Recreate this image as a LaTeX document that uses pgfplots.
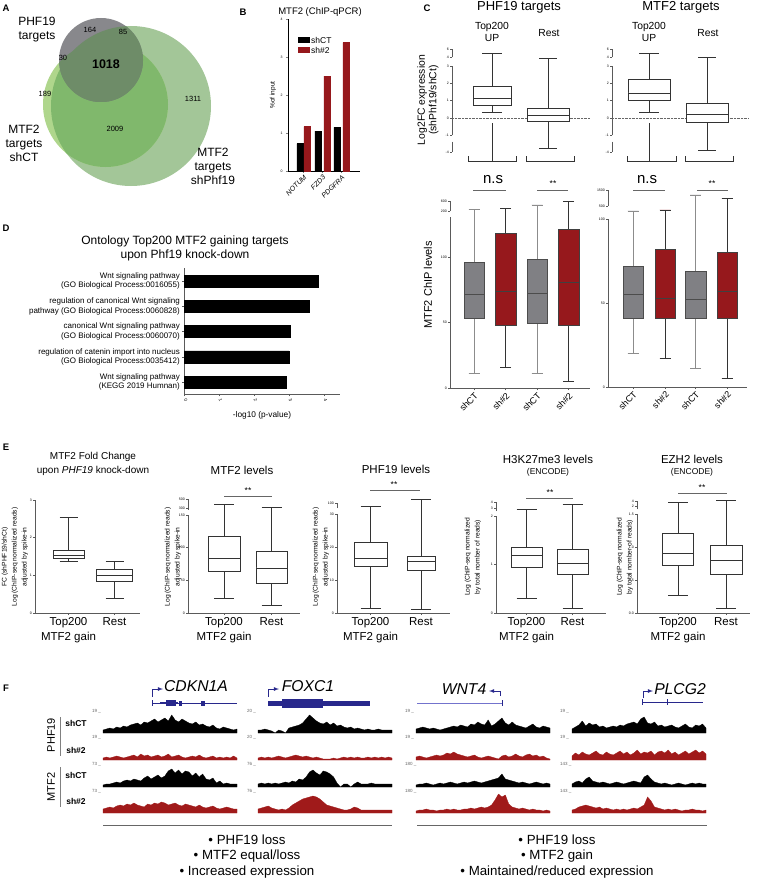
\documentclass[border=0pt]{standalone}
\usepackage{pgfplots}
\pgfplotsset{compat=1.18}
\usepgfplotslibrary{statistics}
\usepackage{fontspec}
\setmainfont{Liberation Sans}
\definecolor{boxgray}{RGB}{128,128,132}
\definecolor{boxred}{RGB}{150,24,28}
\definecolor{trkred}{RGB}{160,26,26}
\definecolor{navy}{RGB}{40,40,140}
\definecolor{lnavy}{RGB}{115,115,205}
\definecolor{vpale}{RGB}{163,198,152}
\definecolor{vlight}{RGB}{175,214,140}
\definecolor{vmed}{RGB}{128,184,108}
\definecolor{vgray}{RGB}{136,136,140}
\definecolor{vdark}{RGB}{110,140,104}
\definecolor{axgray}{RGB}{90,90,90}
\newcommand{\fsz}[2]{\fontsize{#1}{#2}\selectfont}
\pgfplotsset{
  bxax/.style={scale only axis, clip=false, /pgf/number format/assume math mode=true,
    axis x line=bottom, axis y line=left, axis line style={-, draw=axgray, line width=0.6pt},
    y axis line style={draw=none},
    tick align=outside, major tick length=2pt, tick style={draw=axgray, line width=0.5pt},
    yticklabel style={font=\fsz{3.5}{4}, inner sep=1pt}},
  wbox/.style={draw=black!80, fill=white, line width=0.8pt},
  gbox/.style={draw=black!70, fill=boxgray, line width=0.6pt, boxplot/every whisker/.style={draw=black!45, line width=0.8pt}},
  rbox/.style={draw=black!75, fill=boxred, line width=0.6pt, boxplot/every whisker/.style={draw=black!80, line width=0.8pt}},
  elab/.style={xticklabel style={align=center, anchor=north, font=\fsz{11.5}{15}, inner sep=2pt}},
}
\newcommand{\bx}[9]{\addplot[#1, boxplot prepared={draw direction=y, draw position=#2, box extend=#3, whisker extend=#4, lower whisker=#5, lower quartile=#6, median=#7, upper quartile=#8, upper whisker=#9}] coordinates {};}
\newcommand{\trk}[4]{\begin{axis}[at={(#1pt,-#2pt)}, anchor=south west, scale only axis, width=134pt, height=22pt, hide axis, xmin=0, xmax=39, ymin=0, ymax=22, clip=false]
\addplot[fill=#3, draw=#3, line width=0.3pt] table[x expr=\coordindex, y=v, row sep=\\]{#4} \closedcycle;
\end{axis}}
\begin{document}
\begin{tikzpicture}
\path[use as bounding box] (0pt,0pt) rectangle (760pt,-880pt);

% ---------------- A: Venn
\begin{axis}[at={(0pt,-220pt)}, anchor=south west, scale only axis, width=240pt, height=220pt, xmin=0, xmax=240, ymin=-220, ymax=0, hide axis, clip=false]
\fill[vpale] (131,-106) circle[radius=80pt];
\fill[vlight] (105.5,-104.5) circle[radius=62.5pt];
\begin{scope}\clip (105.5,-104.5) circle[radius=62.5pt]; \fill[vmed] (131,-106) circle[radius=80pt];\end{scope}
\fill[vgray] (101,-60) circle[radius=42pt];
\begin{scope}\clip (101,-60) circle[radius=42pt]; \fill[vdark] (131,-106) circle[radius=80pt]; \fill[vdark] (105.5,-104.5) circle[radius=62.5pt];\end{scope}
\end{axis}

% ---------------- B: bars
\begin{axis}[scale only axis, clip=false, at={(288pt,-171pt)}, anchor=south west, width=72pt, height=152pt,
  xmin=0, xmax=72, ymin=0, ymax=4, ybar, bar width=6.5pt, bar shift=0pt,
  axis x line=bottom, axis y line=left, axis line style={-, line width=0.6pt},
  ytick={0,1,2,3,4}, xtick={15.5,34.5,53.5}, xticklabels={NOTUM,FZD3,PDGFRA},
  xticklabel style={rotate=45, anchor=north east, font=\itshape\fsz{7}{8}, inner sep=1pt},
  yticklabel style={font=\fsz{3.5}{4}}, tick align=outside, major tick length=2pt,
  /pgf/number format/assume math mode=true]
\addplot[fill=black, draw=black] coordinates {(12,0.72) (30,1.05) (49,1.15)};
\addplot[fill=boxred, draw=boxred] coordinates {(19,1.17) (39,2.5) (58,3.38)};
\end{axis}

% ---------------- C top left (x relative to 452)
\begin{axis}[bxax, axis x line=none, at={(452pt,-162.6pt)}, anchor=south west, width=138pt, height=114.6pt,
  xmin=0, xmax=138, ymin=-2.55, ymax=4,
  ytick={-1.94,-1,0,1,2,2.97,3.47,3.94}, yticklabels={-4,-1,0,1,2,3,4,6}]
\draw[axgray, line width=0.6pt] (0,-1) -- (0,2.97);
\draw[axgray, line width=0.6pt] (0,3.47) -- (0,3.94);
\draw[axgray, line width=0.6pt] (0,-1.35) -- (0,-1.94);
\draw[densely dotted, black!60] (0,0) -- (138,0);
\bx{wbox}{40}{38}{20}{0.3}{0.7}{1.13}{1.8}{3.71}
\addplot[black!80, line width=0.8pt] coordinates {(40,-0.3) (40,-2.51)};
\bx{wbox}{96}{42}{18}{-1.73}{-0.17}{0.13}{0.57}{3.43}
\draw[black!80, line width=1pt] (16,-2.2) -- (16,-2.51) -- (64,-2.51) -- (64,-2.2);
\draw[black!80, line width=1pt] (74,-2.2) -- (74,-2.51) -- (122,-2.51) -- (122,-2.2);
\end{axis}

% ---------------- C top right (x relative to 612)
\begin{axis}[bxax, axis x line=none, at={(612pt,-162.6pt)}, anchor=south west, width=136pt, height=114.6pt,
  xmin=0, xmax=136, ymin=-2.55, ymax=4,
  ytick={-1.94,-1,0,1,2,2.97,3.47,3.94}, yticklabels={-4,-1,0,1,2,3,4,6}]
\draw[axgray, line width=0.6pt] (0,-1) -- (0,2.97);
\draw[axgray, line width=0.6pt] (0,3.47) -- (0,3.94);
\draw[axgray, line width=0.6pt] (0,-1.35) -- (0,-1.94);
\draw[densely dotted, black!60] (0,0) -- (136,0);
\bx{wbox}{37}{42}{20}{0.34}{1.03}{1.43}{2.23}{3.71}
\addplot[black!80, line width=0.8pt] coordinates {(37,-0.3) (37,-2.51)};
\bx{wbox}{95}{42}{18}{-1.83}{-0.23}{0.23}{0.86}{3.49}
\draw[black!80, line width=1pt] (15,-2.2) -- (15,-2.51) -- (64,-2.51) -- (64,-2.2);
\draw[black!80, line width=1pt] (73,-2.2) -- (73,-2.51) -- (121,-2.51) -- (121,-2.2);
\end{axis}

% ---------------- C bottom left (x relative to 450)
\begin{axis}[bxax, at={(450pt,-388.3pt)}, anchor=south west, width=140pt, height=188.3pt,
  xmin=0, xmax=140, ymin=0, ymax=143.3,
  ytick={0,50,100,134.9,142.6}, yticklabels={0,50,100,200,600},
  xtick={24,55.5,87,118.5}, xticklabels={shCT,sh\#2,shCT,sh\#2},
  xticklabel style={rotate=45, anchor=north east, font=\fsz{9}{10}, inner sep=1pt}]
\draw[axgray, line width=0.6pt] (0,0) -- (0,130);
\draw[axgray, line width=0.6pt] (0,134.9) -- (0,142.6);
\bx{gbox}{24}{20}{11}{11.4}{53.5}{71.2}{95.6}{136.3}
\bx{rbox}{55.5}{21}{11}{15.7}{48.2}{73.8}{118}{137}
\bx{gbox}{87}{20}{11}{11.4}{49.5}{72.5}{98}{139.5}
\bx{rbox}{118.5}{21}{11}{5}{48.2}{80.4}{121.2}{142}
\end{axis}

% ---------------- C bottom right (x relative to 608)
\begin{axis}[bxax, at={(608pt,-387pt)}, anchor=south west, width=139pt, height=197.4pt,
  xmin=0, xmax=139, ymin=0, ymax=117.5,
  ytick={0,50,100,107.7,117.3}, yticklabels={0,50,100,500,1500},
  xtick={25,57,87.5,119}, xticklabels={shCT,sh\#2,shCT,sh\#2},
  xticklabel style={rotate=45, anchor=north east, font=\fsz{9}{10}, inner sep=1pt}]
\draw[axgray, line width=0.6pt] (0,0) -- (0,100);
\draw[axgray, line width=0.6pt] (0,107.7) -- (0,117.3);
\bx{gbox}{25}{20}{11}{20}{41}{55}{72}{104.8}
\bx{rbox}{57}{20}{11}{17}{41}{53}{82}{105.4}
\bx{gbox}{87.5}{21}{11}{11}{41}{52}{69}{114.3}
\bx{rbox}{119}{20}{11}{5}{41}{57}{80}{112.5}
\end{axis}

% ---------------- D
\begin{axis}[scale only axis, clip=false, at={(184pt,-394pt)}, anchor=south west, width=156pt, height=126pt,
  xmin=0, xmax=4.46, ymin=0.525, ymax=5.515, xbar, bar width=12pt, bar shift=0pt,
  axis x line=bottom, axis y line=left, axis line style={-, line width=0.6pt, draw=axgray},
  xtick={0,1,2,3,4}, ytick={1,2,3,4,5},
  yticklabels={{Wnt signaling pathway\\(KEGG 2019 Humnan)},
    {regulation of catenin import into nucleus\\(GO Biological Process:0035412)},
    {canonical Wnt signaling pathway\\(GO Biological Process:0060070)},
    {regulation of canonical Wnt signaling\\pathway (GO Biological Process:0060828)},
    {Wnt signaling pathway\\(GO Biological Process:0016055)}},
  yticklabel style={align=right, font=\fsz{8}{9.5}, inner sep=2pt},
  xticklabel style={rotate=-70, anchor=west, font=\fsz{4.5}{5}},
  tick align=outside, major tick length=2pt, tick style={draw=axgray},
  /pgf/number format/assume math mode=true]
\addplot[fill=black, draw=black] coordinates {(2.91,1) (3.0,2) (3.03,3) (3.57,4) (3.84,5)};
\end{axis}

% ---------------- E1 (x relative to 35)
\begin{axis}[bxax, elab, at={(35pt,-613pt)}, anchor=south west, width=105pt, height=113pt,
  xmin=0, xmax=105, ymin=0, ymax=3, ytick={0,1,2,3},
  xtick={33.5,79.5}, xticklabels={{Top200\\MTF2 gain},Rest}]
\draw[axgray, line width=0.6pt] (0,0) -- (0,3);
\bx{wbox}{33.5}{31}{18}{1.37}{1.45}{1.52}{1.67}{2.55}
\bx{wbox}{79.5}{36}{18}{0.4}{0.85}{1.0}{1.17}{1.38}
\end{axis}
% ---------------- E2 (x relative to 188)
\begin{axis}[bxax, elab, at={(188pt,-613pt)}, anchor=south west, width=112pt, height=114.3pt,
  xmin=0, xmax=112, ymin=0, ymax=175, ytick={0,50,100,150,160.8,174.6}, yticklabels={0,50,100,150,300,500},
  xtick={36,83.5}, xticklabels={{Top200\\MTF2 gain},Rest}]
\draw[axgray, line width=0.6pt] (0,0) -- (0,150);
\draw[axgray, line width=0.6pt] (0,158) -- (0,174.6);
\bx{wbox}{36}{32}{20}{23}{63}{83}{118}{167}
\bx{wbox}{83.5}{31}{20}{11}{46}{69}{94}{162.3}
\end{axis}
% ---------------- E3 (x relative to 337)
\begin{axis}[bxax, elab, at={(337pt,-613pt)}, anchor=south west, width=113pt, height=115.5pt,
  xmin=0, xmax=113, ymin=0, ymax=35, ytick={0,10,20,30,33.3}, yticklabels={0,10,20,30,100},
  xtick={33.5,84}, xticklabels={{Top200\\MTF2 gain},Rest}]
\draw[axgray, line width=0.6pt] (0,0) -- (0,30);
\draw[axgray, line width=0.6pt] (0,31.8) -- (0,33.3);
\bx{wbox}{33.5}{33}{20}{1.5}{14}{16.4}{21.5}{32.4}
\bx{wbox}{84}{28}{20}{1}{13}{15.5}{17.3}{34.5}
\end{axis}
% ---------------- E4 (x relative to 496)
\begin{axis}[bxax, elab, at={(496pt,-613pt)}, anchor=south west, width=110pt, height=111.6pt,
  xmin=0, xmax=110, ymin=0, ymax=2.3, ytick={0,1,2,2.16,2.29}, yticklabels={0,1,2,3,4},
  xtick={30.5,76.5}, xticklabels={{Top200\\MTF2 gain},Rest}]
\draw[axgray, line width=0.6pt] (0,0) -- (0,2);
\draw[axgray, line width=0.6pt] (0,2.1) -- (0,2.29);
\bx{wbox}{30.5}{31}{20}{0.31}{0.95}{1.18}{1.36}{2.14}
\bx{wbox}{76.5}{31}{20}{0.1}{0.8}{1.03}{1.32}{2.23}
\end{axis}
% ---------------- E5 (x relative to 637)
\begin{axis}[bxax, elab, at={(637pt,-613pt)}, anchor=south west, width=113pt, height=115.5pt,
  xmin=0, xmax=113, ymin=0, ymax=1.75, ytick={0,0.5,1,1.5,1.61,1.70}, yticklabels={0.0,0.5,1.0,1.5,2,4},
  xtick={41,89}, xticklabels={{Top200\\MTF2 gain},Rest}]
\draw[axgray, line width=0.6pt] (0,0) -- (0,1.5);
\draw[axgray, line width=0.6pt] (0,1.57) -- (0,1.70);
\bx{wbox}{41}{31}{20}{0.26}{0.72}{0.9}{1.21}{1.67}
\bx{wbox}{89}{32}{20}{0.07}{0.59}{0.8}{1.02}{1.71}
\end{axis}

% ---------------- F tracks
\trk{103}{733}{black}{v\\3\\4\\5\\4\\6\\5\\7\\6\\8\\9\\10\\8\\11\\10\\12\\14\\11\\13\\15\\12\\18\\13\\11\\14\\12\\10\\9\\11\\8\\9\\7\\6\\8\\5\\4\\6\\5\\4\\3\\4\\}
\trk{103}{760}{trkred}{v\\2\\3\\2\\3\\4\\3\\2\\3\\4\\5\\3\\6\\4\\5\\3\\4\\5\\3\\4\\6\\3\\4\\5\\3\\2\\3\\4\\3\\5\\3\\2\\3\\4\\2\\3\\2\\3\\2\\4\\2\\}
\trk{103}{787}{black}{v\\2\\3\\3\\4\\5\\4\\6\\7\\6\\8\\7\\6\\9\\11\\8\\10\\12\\9\\11\\16\\18\\14\\17\\13\\16\\15\\11\\14\\10\\13\\8\\7\\9\\4\\6\\3\\4\\3\\3\\3\\}
\trk{103}{813}{trkred}{v\\4\\5\\6\\5\\7\\8\\7\\9\\8\\10\\8\\7\\6\\9\\8\\10\\9\\11\\10\\8\\9\\10\\8\\7\\9\\8\\7\\6\\8\\6\\5\\6\\7\\5\\4\\5\\6\\5\\4\\4\\}
\trk{258}{733}{black}{v\\3\\3\\4\\3\\2\\0\\3\\2\\0\\5\\6\\7\\8\\10\\14\\18\\15\\12\\10\\9\\11\\8\\10\\7\\8\\6\\5\\6\\4\\5\\4\\3\\4\\3\\3\\4\\3\\3\\3\\3\\}
\trk{258}{760}{trkred}{v\\2\\3\\2\\3\\2\\3\\4\\3\\2\\3\\4\\5\\4\\3\\4\\3\\2\\3\\2\\1\\1\\1\\2\\1\\2\\3\\2\\3\\2\\3\\2\\2\\3\\2\\3\\2\\3\\2\\3\\2\\}
\trk{258}{787}{black}{v\\3\\4\\3\\4\\3\\4\\3\\4\\5\\4\\6\\5\\8\\7\\10\\15\\17\\14\\12\\16\\15\\13\\10\\4\\0\\3\\3\\0\\3\\5\\3\\3\\3\\4\\3\\3\\3\\3\\3\\3\\}
\trk{258}{813}{trkred}{v\\4\\5\\6\\7\\5\\4\\3\\4\\3\\5\\8\\10\\12\\14\\15\\16\\17\\16\\14\\11\\8\\7\\6\\5\\4\\3\\3\\4\\6\\5\\3\\3\\3\\3\\3\\3\\3\\3\\3\\3\\}
\trk{416}{733}{black}{v\\4\\5\\6\\5\\4\\5\\4\\3\\4\\5\\6\\7\\6\\8\\7\\6\\9\\8\\11\\9\\8\\13\\7\\9\\12\\15\\10\\8\\11\\8\\7\\6\\5\\7\\9\\6\\5\\7\\6\\5\\}
\trk{416}{760}{trkred}{v\\3\\4\\3\\2\\3\\4\\5\\4\\5\\7\\6\\8\\6\\5\\4\\3\\4\\5\\3\\2\\3\\4\\3\\2\\1\\4\\5\\3\\4\\6\\4\\3\\5\\6\\4\\5\\3\\4\\2\\1\\}
\trk{416}{787}{black}{v\\2\\3\\3\\4\\3\\2\\3\\4\\3\\4\\5\\4\\3\\4\\5\\4\\5\\6\\5\\4\\5\\6\\7\\8\\9\\13\\8\\7\\6\\5\\4\\5\\4\\3\\4\\5\\4\\3\\4\\3\\}
\trk{416}{813}{trkred}{v\\2\\3\\3\\4\\3\\3\\2\\3\\3\\4\\3\\4\\3\\3\\4\\4\\5\\4\\5\\6\\5\\6\\8\\13\\19\\16\\18\\9\\6\\5\\4\\5\\4\\3\\4\\3\\3\\2\\3\\2\\}
\trk{572}{733}{black}{v\\4\\6\\8\\12\\7\\10\\8\\9\\6\\7\\5\\6\\7\\6\\8\\7\\9\\10\\11\\9\\14\\16\\10\\9\\11\\7\\8\\6\\7\\8\\6\\5\\7\\9\\6\\5\\8\\7\\9\\5\\}
\trk{572}{760}{trkred}{v\\4\\7\\5\\8\\6\\5\\7\\9\\6\\5\\8\\6\\5\\7\\9\\6\\8\\5\\7\\10\\6\\8\\7\\9\\5\\8\\9\\7\\10\\6\\8\\5\\7\\9\\6\\8\\10\\7\\9\\6\\}
\trk{572}{787}{black}{v\\3\\5\\6\\4\\8\\10\\6\\5\\4\\5\\4\\3\\4\\5\\4\\3\\4\\5\\6\\5\\4\\10\\12\\8\\5\\4\\3\\4\\3\\2\\3\\4\\3\\2\\3\\4\\3\\4\\3\\3\\}
\trk{572}{813}{trkred}{v\\3\\4\\6\\7\\8\\7\\6\\5\\6\\4\\5\\4\\3\\4\\3\\4\\3\\4\\5\\4\\6\\8\\16\\12\\6\\5\\4\\3\\4\\3\\4\\3\\2\\3\\3\\4\\3\\3\\2\\3\\}

% ---------------- annotations
\begin{scope}[x=1pt, y=-1pt]
\foreach \l/\px/\py in {A/6/8, B/243/12, C/427/8, D/6/228, E/6/447, F/6/688}
  \node[font=\bfseries\fsz{9.5}{10}] at (\px,\py) {\l};
% A
\node[align=center, font=\fsz{12}{14}] at (37,30) {PHF19\\targets};
\node[font=\fsz{7.5}{8}] at (90,30) {164};
\node[font=\fsz{7.5}{8}] at (123,32) {85};
\node[font=\fsz{7.5}{8}] at (63,58) {30};
\node[font=\fsz{7.5}{8}] at (45,94) {189};
\node[font=\fsz{7.5}{8}] at (193,99) {1311};
\node[font=\fsz{7.5}{8}] at (115,129) {2009};
\node[font=\bfseries\fsz{12.5}{13}] at (106,64) {1018};
\node[align=center, font=\fsz{12}{14}] at (24,143) {MTF2\\targets\\shCT};
\node[align=center, font=\fsz{12}{14}] at (213,166) {MTF2\\targets\\shPhf19};
% B
\node[font=\fsz{9.5}{10}] at (320,12) {MTF2 (ChIP-qPCR)};
\node[rotate=90, font=\fsz{6.5}{7}] at (273,95) {\%of input};
\fill[black] (298,37.5) rectangle (310,43);
\fill[boxred] (298,47.5) rectangle (310,53);
\node[anchor=west, font=\fsz{8.5}{9}, inner sep=1pt] at (310,40) {shCT};
\node[anchor=west, font=\fsz{8.5}{9}, inner sep=1pt] at (310,50) {sh\#2};
% C
\node[font=\fsz{13}{14}] at (519,7) {PHF19 targets};
\node[font=\fsz{13}{14}] at (681,7) {MTF2 targets};
\node[align=center, font=\fsz{10.3}{12}] at (492,32) {Top200\\UP};
\node[font=\fsz{10.3}{12}] at (549,33) {Rest};
\node[align=center, font=\fsz{10.3}{12}] at (649,32) {Top200\\UP};
\node[font=\fsz{10.3}{12}] at (708,33) {Rest};
\node[rotate=90, align=center, font=\fsz{10.4}{11.5}] at (428,100) {Log2FC expression\\(shPhf19/shCt)};
\node[rotate=90, font=\fsz{11}{12}] at (428,285) {MTF2 ChIP levels};
\node[font=\fsz{15}{15}] at (493,180) {n.s};
\draw[black!60, line width=0.6pt] (473,190) -- (506,190);
\node[font=\fsz{8.5}{9}] at (553,184) {**};
\draw[black!60, line width=0.6pt] (537,190) -- (568,190);
\node[font=\fsz{15}{15}] at (647,180) {n.s};
\draw[black!60, line width=0.6pt] (633,190) -- (665,190);
\node[font=\fsz{8.5}{9}] at (712,184) {**};
\draw[black!60, line width=0.6pt] (697,190) -- (728,190);
% D
\node[align=center, font=\fsz{12}{14}] at (185,248) {Ontology Top200 MTF2 gaining targets\\upon Phf19 knock-down};
\node[font=\fsz{8.3}{9}] at (262,415) {-log10 (p-value)};
% E
\node[align=center, font=\fsz{10}{14}] at (93,464) {MTF2 Fold Change\\upon \textit{PHF19} knock-down};
\node[font=\fsz{11.5}{12}] at (242,470) {MTF2 levels};
\node[font=\fsz{11.5}{12}] at (396,469) {PHF19 levels};
\node[font=\fsz{11.5}{12}] at (548,459) {H3K27me3 levels};
\node[font=\fsz{8.5}{9}] at (548,472) {(ENCODE)};
\node[font=\fsz{11.5}{12}] at (692,459) {EZH2 levels};
\node[font=\fsz{8.5}{9}] at (692,472) {(ENCODE)};
\node[rotate=90, align=center, font=\fsz{6.7}{10}] at (15,557) {FC (shPHF19/shCt)\\Log (ChIP-seq normalized reads)\\adjusted by spike-in};
\node[rotate=90, align=center, font=\fsz{6.7}{10}] at (173,557) {Log (ChIP-seq normalized reads)\\adjusted by spike-in};
\node[rotate=90, align=center, font=\fsz{6.7}{10}] at (321,557) {Log (ChIP-seq normalized reads)\\adjusted by spike-in};
\node[rotate=90, align=center, font=\fsz{6.7}{10}] at (473,557) {Log (ChIP-seq normalized\\by total nomber of reads)};
\node[rotate=90, align=center, font=\fsz{6.7}{10}] at (625,557) {Log (ChIP-seq normalized\\by total nomber of reads)};
\node[font=\fsz{8.5}{9}] at (248,491) {**};
\draw[black!60, line width=0.6pt] (224,496) -- (272,496);
\node[font=\fsz{8.5}{9}] at (394,485) {**};
\draw[black!60, line width=0.6pt] (370,490) -- (420,490);
\node[font=\fsz{8.5}{9}] at (550,493) {**};
\draw[black!60, line width=0.6pt] (526,498) -- (573,498);
\node[font=\fsz{8.5}{9}] at (702,488) {**};
\draw[black!60, line width=0.6pt] (678,493) -- (727,493);
% F gene models
\node[font=\itshape\fsz{15.7}{16}] at (196,686) {CDKN1A};
\draw[navy, line width=0.8pt, -latex] (152,697) -- (152,689) -- (163,689);
\draw[navy, line width=0.5pt] (152,703) -- (237,703);
\draw[navy, line width=0.6pt] (152,700) -- (152,706);
\fill[navy] (160,701.8) rectangle (178,704.2);
\fill[navy] (166,700) rectangle (176,706);
\fill[navy] (179,700.5) rectangle (182,705.5);
\fill[navy] (201,700.5) rectangle (205,705.5);
\node[font=\itshape\fsz{15.7}{16}] at (308,686) {FOXC1};
\draw[navy, line width=0.8pt, -latex] (268,697) -- (268,689) -- (279,689);
\fill[navy] (268,700.5) rectangle (370,705.5);
\fill[navy] (282,698.5) rectangle (323,707.5);
\node[font=\itshape\fsz{15.7}{16}] at (464,689) {WNT4};
\draw[navy, line width=0.8pt, -latex] (500,696) -- (500,691) -- (489,691);
\draw[lnavy, line width=0.6pt] (417,703) -- (502,703);
\draw[navy, line width=0.6pt] (502,700) -- (502,706);
\node[font=\itshape\fsz{15.7}{16}] at (680,689) {PLCG2};
\draw[navy, line width=0.8pt, -latex] (643,698) -- (643,691) -- (653,691);
\draw[navy, line width=0.5pt] (642,702) -- (703,702);
\draw[navy, line width=0.6pt] (642,699) -- (642,705);
\draw[navy, line width=0.6pt] (667,699) -- (667,705);
% F labels
\node[font=\bfseries\fsz{8.5}{9}] at (76,723) {shCT};
\node[font=\bfseries\fsz{8.5}{9}] at (76,750) {sh\#2};
\node[font=\bfseries\fsz{8.5}{9}] at (76,775) {shCT};
\node[font=\bfseries\fsz{8.5}{9}] at (76,801) {sh\#2};
\node[rotate=90, font=\fsz{11}{11}] at (51,735) {PHF19};
\node[rotate=90, font=\fsz{11}{11}] at (51,787) {MTF2};
\draw[black!50, line width=0.8pt] (60,717) -- (60,756);
\draw[black!50, line width=0.8pt] (60,767) -- (60,807);
\foreach \sx/\a/\b in {92/19/73, 247/20/76, 405/19/180, 560/19/143} {
  \node[anchor=west, font=\fsz{4.5}{5}, text=black!60, inner sep=0pt] at (\sx,711) {\a\ \_};
  \node[anchor=west, font=\fsz{4.5}{5}, text=black!60, inner sep=0pt] at (\sx,737) {\a\ \_};
  \node[anchor=west, font=\fsz{4.5}{5}, text=black!60, inner sep=0pt] at (\sx,764) {\b\ \_};
  \node[anchor=west, font=\fsz{4.5}{5}, text=black!60, inner sep=0pt] at (\sx,791) {\b\ \_};
}
\draw[black!60, line width=0.6pt] (103,825) -- (392,825);
\draw[black!60, line width=0.6pt] (417,825) -- (707,825);
\node[font=\fsz{13.3}{14}] at (247,840) {• PHF19 loss};
\node[font=\fsz{13.3}{14}] at (247,856) {• MTF2 equal/loss};
\node[font=\fsz{13.3}{14}] at (247,872) {• Increased expression};
\node[font=\fsz{13.3}{14}] at (557,840) {• PHF19 loss};
\node[font=\fsz{13.3}{14}] at (557,856) {• MTF2 gain};
\node[font=\fsz{13.3}{14}] at (557,872) {• Maintained/reduced expression};
\end{scope}
\end{tikzpicture}
\end{document}
